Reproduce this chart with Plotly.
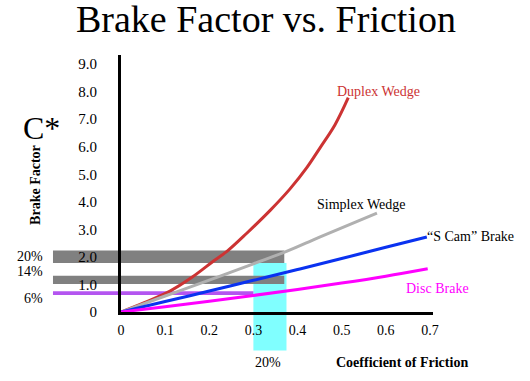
import plotly.graph_objects as go

# ---- data ----
duplex_mu = [0, 0.05, 0.111, 0.16, 0.213, 0.24, 0.285, 0.338, 0.383, 0.421, 0.451, 0.485, 0.515]
duplex_c = [0, 0.32, 0.76, 1.25, 1.89, 2.2, 2.86, 3.69, 4.47, 5.24, 5.96, 6.8, 7.78]
simplex_mu = [0, 0.1, 0.2, 0.3, 0.375, 0.45, 0.58]
simplex_c = [0, 0.58, 1.16, 1.75, 2.2, 2.72, 3.59]
scam_mu = [0, 0.1, 0.2, 0.3, 0.4, 0.5, 0.6, 0.693]
scam_c = [0, 0.38, 0.76, 1.15, 1.54, 1.94, 2.35, 2.72]
disc_mu = [0, 0.1, 0.2, 0.3, 0.4, 0.5, 0.6, 0.695]
disc_c = [0, 0.19, 0.39, 0.6, 0.82, 1.05, 1.3, 1.57]

x_ticks = [0, 0.1, 0.2, 0.3, 0.4, 0.5, 0.6, 0.7]
x_tick_labels = ["0", "0.1", "0.2", "0.3", "0.4", "0.5", "0.6", "0.7"]
y_ticks = [0, 1, 2, 3, 4, 5, 6, 7, 8, 9]
y_tick_labels = ["0", "1.0", "2.0", "3.0", "4.0", "5.0", "6.0", "7.0", "8.0", "9.0"]

band_labels = ["20%", "14%", "6%"]
band_low = [1.78, 1.02, 0.62]
band_high = [2.23, 1.32, 0.75]
band_end = [0.37, 0.37, 0.30]
cyan_range = [0.30, 0.375]

FONT = "Liberation Serif"

fig = go.Figure()

series = [
    (duplex_mu, duplex_c, "#cc3333"),
    (simplex_mu, simplex_c, "#b0b0b0"),
    (scam_mu, scam_c, "#0a32f0"),
    (disc_mu, disc_c, "#ff00ff"),
]
for mu, c, col in series:
    fig.add_trace(go.Scatter(x=mu, y=c, mode="lines",
                             line=dict(color=col, width=3, shape="spline"),
                             showlegend=False, hoverinfo="skip"))

shapes = []
# cyan band (inside plot and below axis)
shapes.append(dict(type="rect", xref="x", yref="y", x0=cyan_range[0], x1=cyan_range[1],
                   y0=0, y1=band_low[0], fillcolor="#80ffff", line=dict(width=0), layer="below"))
shapes.append(dict(type="rect", xref="x", yref="paper", x0=cyan_range[0], x1=cyan_range[1],
                   y0=-0.15, y1=0, fillcolor="#80ffff", line=dict(width=0), layer="below"))
band_cols = ["#808080", "#808080", "#b455f0"]
for lo, hi, end, col in zip(band_low, band_high, band_end, band_cols):
    shapes.append(dict(type="rect", xref="x", yref="y", x0=0, x1=end, y0=lo, y1=hi,
                       fillcolor=col, line=dict(width=0), layer="below"))
    shapes.append(dict(type="rect", xref="paper", yref="y", x0=-0.218, x1=0, y0=lo, y1=hi,
                       fillcolor=col, line=dict(width=0), layer="below"))

annotations = [
    dict(text="Brake Factor vs. Friction", xref="paper", yref="paper", x=0.466, y=1.14,
         xanchor="center", yanchor="middle", showarrow=False,
         font=dict(family=FONT, size=38, color="black")),
    dict(text="C*", xref="paper", yref="paper", x=-0.32, y=0.715, xanchor="left",
         yanchor="middle", showarrow=False, font=dict(family=FONT, size=32, color="black")),
    dict(text="<b>Brake Factor</b>", xref="paper", yref="paper", x=-0.272, y=0.495,
         xanchor="center", yanchor="middle",
         textangle=-90, showarrow=False, font=dict(family=FONT, size=14, color="black")),
    dict(text="<b>Coefficient of Friction</b>", xref="paper", yref="paper", x=0.902, y=-0.196,
         xanchor="center", yanchor="middle", showarrow=False,
         font=dict(family=FONT, size=14, color="black")),
    dict(text="20%", xref="x", yref="paper", x=0.334, y=-0.196, xanchor="center",
         yanchor="middle", showarrow=False, font=dict(family=FONT, size=14, color="black")),
    dict(text="Duplex Wedge", xref="paper", yref="y", x=0.826, y=7.99, xanchor="center",
         showarrow=False, font=dict(family=FONT, size=14, color="#cc3333")),
    dict(text="Simplex Wedge", xref="paper", yref="y", x=0.769, y=3.9, xanchor="center",
         showarrow=False, font=dict(family=FONT, size=14, color="black")),
    dict(text="\u201cS Cam\u201d Brake", xref="paper", yref="y", x=1.12, y=2.74,
         xanchor="center", showarrow=False, font=dict(family=FONT, size=14, color="black")),
    dict(text="Disc Brake", xref="paper", yref="y", x=1.016, y=0.85, xanchor="center",
         showarrow=False, font=dict(family=FONT, size=14, color="#ff00ff")),
]
label_y = [2.01, 1.46, 0.49]
for lab, yy in zip(band_labels, label_y):
    annotations.append(dict(text=lab, xref="paper", yref="y", x=-0.244, y=yy, xanchor="right",
                            showarrow=False, font=dict(family=FONT, size=14, color="black")))

fig.update_layout(
    width=530, height=381,
    margin=dict(l=121, r=97, t=55, b=68.5),
    paper_bgcolor="white", plot_bgcolor="white",
    shapes=shapes, annotations=annotations,
    xaxis=dict(range=[0, 0.707], tickvals=x_ticks, ticktext=x_tick_labels, automargin=False,
               showgrid=False, zeroline=False, showline=True, linewidth=3, linecolor="black",
               ticks="", ticklabelstandoff=3, tickfont=dict(family=FONT, size=14, color="black")),
    yaxis=dict(range=[0, 9.33], tickvals=y_ticks, ticktext=y_tick_labels, automargin=False,
               showgrid=False, zeroline=False, showline=True, linewidth=3, linecolor="black",
               ticks="", ticklabelstandoff=18, tickfont=dict(family=FONT, size=15, color="black")),
)

fig.write_html("out.html", config={"displayModeBar": False},
               post_script="document.body.style.margin='0';")
